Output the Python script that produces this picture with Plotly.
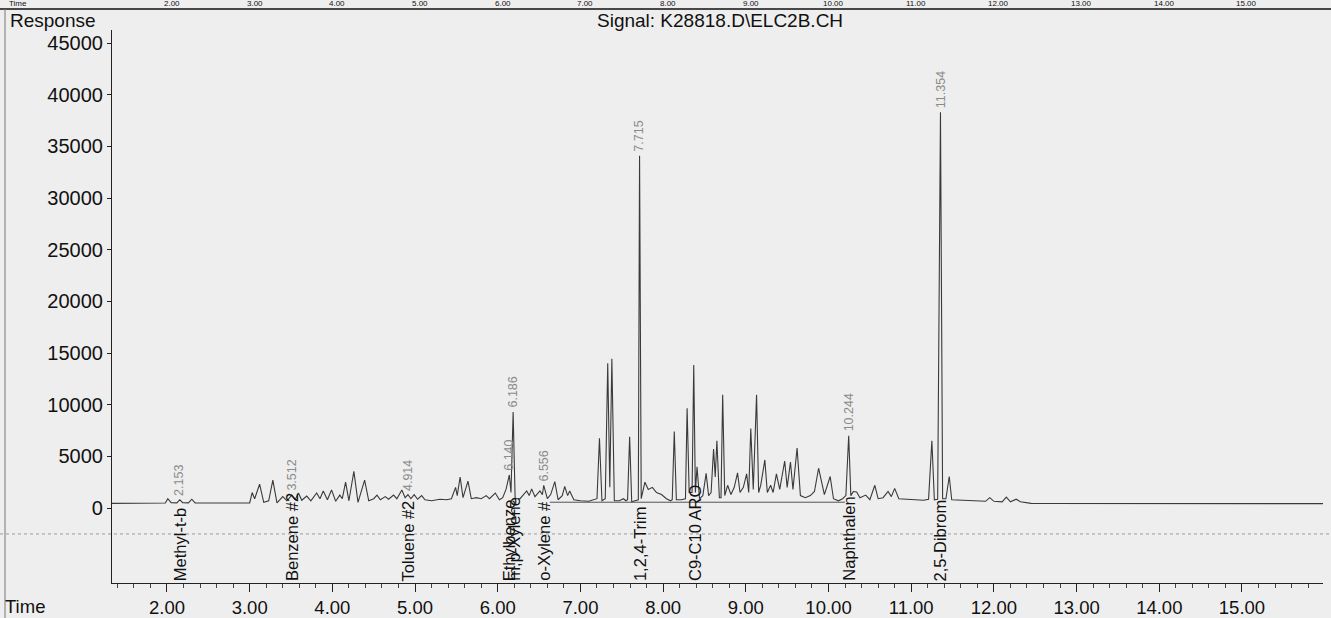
import plotly.graph_objects as go

# ---------------- data ----------------
time_min = [
    1.335, 1.95, 1.98, 2.01, 2.05, 2.12, 2.155, 2.19, 2.26, 2.30, 2.34, 2.5, 2.7, 2.95,
    3.00, 3.03, 3.06, 3.12, 3.17, 3.23, 3.28, 3.33, 3.40, 3.45, 3.51, 3.55, 3.59, 3.63,
    3.69, 3.74, 3.81, 3.85, 3.89, 3.94, 3.99, 4.04, 4.09, 4.12, 4.16, 4.20, 4.26, 4.31,
    4.39, 4.44, 4.50, 4.54, 4.58, 4.64, 4.68, 4.74, 4.78, 4.84, 4.88, 4.914, 4.95, 4.99,
    5.03, 5.08, 5.12, 5.20, 5.30, 5.38, 5.44, 5.49, 5.51, 5.545, 5.58, 5.64, 5.68, 5.74,
    5.80, 5.86, 5.90, 5.97, 6.02, 6.06, 6.10, 6.14, 6.16, 6.186, 6.21, 6.27, 6.35, 6.38,
    6.41, 6.45, 6.51, 6.54, 6.556, 6.60, 6.64, 6.69, 6.73, 6.78, 6.81, 6.845, 6.87, 6.92,
    7.00, 7.10, 7.18, 7.20, 7.23, 7.26, 7.30, 7.33, 7.355, 7.38, 7.41, 7.47, 7.52, 7.55,
    7.57, 7.595, 7.62, 7.68, 7.70, 7.715, 7.735, 7.78, 7.82, 7.87, 7.92, 7.98, 8.04, 8.09,
    8.11, 8.135, 8.16, 8.22, 8.27, 8.29, 8.315, 8.35, 8.37, 8.39, 8.41, 8.44, 8.48, 8.52,
    8.55, 8.58, 8.61, 8.63, 8.65, 8.68, 8.70, 8.72, 8.745, 8.78, 8.82, 8.86, 8.90, 8.93,
    8.97, 9.01, 9.035, 9.06, 9.09, 9.13, 9.155, 9.18, 9.23, 9.26, 9.30, 9.33, 9.37, 9.41,
    9.47, 9.50, 9.54, 9.57, 9.62, 9.66, 9.72, 9.78, 9.83, 9.88, 9.92, 9.95, 10.02, 10.06,
    10.12, 10.17, 10.21, 10.244, 10.27, 10.30, 10.34, 10.38, 10.45, 10.50, 10.56, 10.60,
    10.66, 10.72, 10.76, 10.80, 10.85, 10.95, 11.05, 11.15, 11.21, 11.25, 11.28, 11.32,
    11.354, 11.38, 11.42, 11.46, 11.49, 11.60, 11.75, 11.90, 11.95, 12.00, 12.10, 12.15,
    12.20, 12.27, 12.32, 12.45, 12.60, 14.00, 15.98,
]
response = [
    450, 460, 480, 900, 520, 500, 800, 520, 500, 850, 500, 480, 470, 470,
    500, 1500, 900, 2300, 550, 700, 2700, 500, 1100, 700, 1250, 800, 1450, 750,
    1150, 700, 1450, 900, 1650, 800, 1750, 650, 1250, 900, 2500, 700, 3550, 550,
    2700, 700, 900, 1250, 800, 1100, 850, 1250, 900, 1750, 1000, 1300, 900, 1300,
    850, 1200, 800, 700, 850, 800, 900, 2000, 1200, 3000, 1000, 2600, 900, 1000,
    900, 1200, 900, 1450, 800, 1000, 1800, 3200, 1500, 9300, 900, 900, 1650, 1200,
    1850, 1100, 1650, 1300, 2200, 900, 1300, 2550, 800, 1200, 2100, 1200, 1650, 800,
    700, 650, 800, 900, 6750, 700, 900, 14000, 2000, 14450, 700, 700, 900, 700,
    800, 6900, 600, 700, 800, 34100, 900, 2500, 1800, 2000, 1500, 1300, 900, 700,
    800, 7400, 800, 800, 900, 9650, 1500, 1500, 13850, 1500, 4000, 900, 1200, 3350,
    1200, 1500, 5700, 3000, 6500, 1000, 1000, 10950, 1200, 2200, 1300, 2000, 3400, 1500,
    2000, 3300, 1500, 7700, 1800, 10950, 1500, 2200, 4650, 1500, 2200, 1500, 3300, 1800,
    4550, 2000, 4450, 1800, 5800, 1200, 1000, 1200, 1600, 3850, 2200, 1300, 3050, 900,
    700, 900, 1200, 7000, 1200, 1600, 1550, 1000, 1250, 800, 2200, 900,
    1000, 1600, 1100, 1900, 900, 850, 800, 750, 850, 6500, 800, 850,
    38300, 900, 900, 3050, 800, 750, 700, 650, 1000, 650, 600, 1050,
    600, 850, 600, 450, 430, 420, 420,
]

# integration baseline segment
base_time = [6.63, 10.20]
base_resp = [560, 560]

# retention-time labels above peaks
rt_labels = ["2.153", "3.512", "4.914", "6.140", "6.186", "6.556", "7.715", "10.244", "11.354"]
rt_times = [2.153, 3.512, 4.914, 6.140, 6.186, 6.556, 7.715, 10.244, 11.354]
rt_heights = [800, 1250, 1300, 3200, 9300, 2200, 34100, 7000, 38300]

# compound names along the time axis
compounds = ["Methyl-t-b", "Benzene #2", "Toluene #2", "Ethylbenze", "m,p-Xylene",
             "o-Xylene #", "1,2,4-Trim", "C9-C10 ARO", "Naphthalen", "2,5-Dibrom"]
compound_times = [2.153, 3.512, 4.914, 6.140, 6.186, 6.556, 7.715, 8.385, 10.244, 11.354]

x_ticks = [2, 3, 4, 5, 6, 7, 8, 9, 10, 11, 12, 13, 14, 15]
x_tick_text = ["2.00", "3.00", "4.00", "5.00", "6.00", "7.00", "8.00", "9.00",
               "10.00", "11.00", "12.00", "13.00", "14.00", "15.00"]
y_ticks = [0, 5000, 10000, 15000, 20000, 25000, 30000, 35000, 40000, 45000]
y_tick_text = ["0", "5000", "10000", "15000", "20000", "25000", "30000", "35000",
               "40000", "45000"]

title_text = "Signal: K28818.D\\ELC2B.CH"

# ---------------- figure ----------------
FONT = "Liberation Sans, Arial, sans-serif"
W, H = 1331, 618
ML, MR, MT, MB = 112, 8, 30, 35
PW, PH = W - ML - MR, H - MT - MB


def px_x(px):
    return (px - ML) / PW


def px_y(py):
    return (H - MB - py) / PH


fig = go.Figure()
fig.add_trace(go.Scatter(x=time_min, y=response, mode="lines",
                         line=dict(color="#3a3a3a", width=1.1), showlegend=False,
                         hoverinfo="skip"))
fig.add_trace(go.Scatter(x=base_time, y=base_resp, mode="lines",
                         line=dict(color="#555555", width=1), showlegend=False,
                         hoverinfo="skip"))

ann = []
for t, h, s in zip(rt_times, rt_heights, rt_labels):
    ann.append(dict(x=t, y=h, xref="x", yref="y", text=s, showarrow=False,
                    textangle=-90, xanchor="center", yanchor="bottom", yshift=2,
                    font=dict(family=FONT, size=12.5, color="#8a8a8a")))
for t, s in zip(compound_times, compounds):
    ann.append(dict(x=t, y=0, xref="x", yref="paper", text=s, showarrow=False,
                    textangle=-90, xanchor="center", yanchor="bottom",
                    font=dict(family=FONT, size=16.5, color="#111111")))

# header texts
ann.append(dict(x=px_x(8), y=px_y(20), xref="paper", yref="paper", text="Response",
                showarrow=False, xanchor="left", yanchor="middle",
                font=dict(family=FONT, size=19, color="#111111")))
ann.append(dict(x=px_x(720), y=px_y(20), xref="paper", yref="paper", text=title_text,
                showarrow=False, xanchor="center", yanchor="middle",
                font=dict(family=FONT, size=19, color="#111111")))
ann.append(dict(x=px_x(3), y=px_y(606), xref="paper", yref="paper", text="Time",
                showarrow=False, xanchor="left", yanchor="middle",
                font=dict(family=FONT, size=18.5, color="#111111")))
# axis row of the previous chart on the page (only its lower edge is in view)
ann.append(dict(x=px_x(8), y=px_y(9), xref="paper", yref="paper", text="Time",
                showarrow=False, xanchor="left", yanchor="bottom", borderpad=0,
                font=dict(family=FONT, size=8, color="#111111")))
for t, s in zip(x_ticks, x_tick_text):
    ann.append(dict(x=t + 0.06, y=px_y(9), xref="x", yref="paper", text=s,
                    showarrow=False, xanchor="center", yanchor="bottom", borderpad=0,
                    font=dict(family=FONT, size=8, color="#111111")))

shapes = [
    dict(type="line", xref="paper", yref="paper", x0=px_x(0), x1=px_x(W),
         y0=px_y(9), y1=px_y(9), line=dict(color="#111111", width=1.5)),
    dict(type="line", xref="paper", yref="paper", x0=px_x(5), x1=px_x(5),
         y0=px_y(9), y1=px_y(H), line=dict(color="#777777", width=1)),
    dict(type="line", xref="paper", yref="y", x0=px_x(0), x1=px_x(W),
         y0=-2510, y1=-2510, line=dict(color="#999999", width=1, dash="dot")),
]

fig.update_layout(
    width=W, height=H,
    margin=dict(l=ML, r=MR, t=MT, b=MB, pad=0, autoexpand=False),
    paper_bgcolor="#eeeeee", plot_bgcolor="#eeeeee",
    font=dict(family=FONT, size=19, color="#111111"),
    annotations=ann, shapes=shapes, showlegend=False,
    xaxis=dict(range=[1.335, 15.98], tickvals=x_ticks, ticktext=x_tick_text,
               automargin=False,
               showgrid=False, zeroline=False, showline=True, linecolor="#222222",
               linewidth=1.2, ticks="outside", ticklen=8, tickcolor="#222222",
               tickfont=dict(family=FONT, size=18.5, color="#111111"),
               minor=dict(dtick=0.2, ticks="outside", ticklen=4, tickcolor="#444444")),
    yaxis=dict(range=[-7257, 46258], tickvals=y_ticks, ticktext=y_tick_text,
               automargin=False, showgrid=False, zeroline=False,
               showline=True, linecolor="#222222", linewidth=1.2, ticks="outside",
               ticklen=4, tickcolor="#222222",
               tickfont=dict(family=FONT, size=20, color="#111111")),
)

fig.write_html("out.html")
